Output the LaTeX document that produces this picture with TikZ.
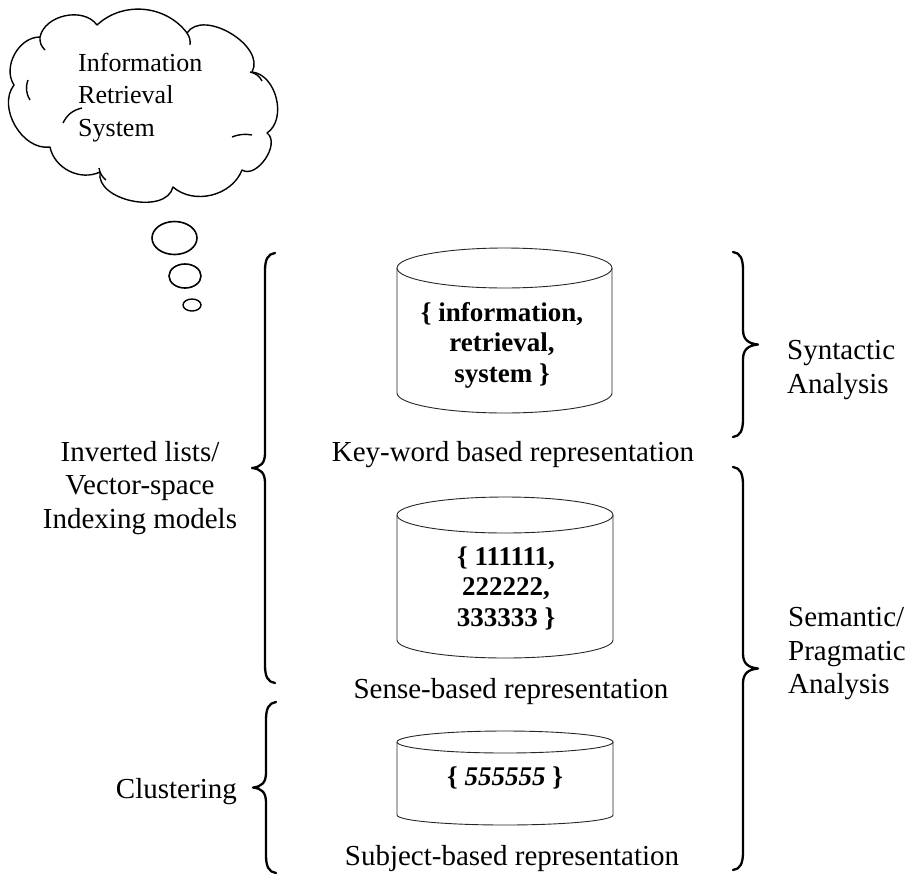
\documentclass[tikz,border=0pt]{standalone}
\usepackage{fontspec}
\setmainfont{Liberation Serif}
\usetikzlibrary{shapes.geometric}

% curly brace opening to the left: hook ends at x=#1, spine at #1+10, tip at #1+25
\newcommand\BraceRight[3]{%
  \pgfmathsetmacro\ymid{(#2+#3)/2}%
  \draw[brace line] (#1,#2) .. controls (#1+7,#2+1) and (#1+10,#2+6) .. (#1+10,#2+18)
    -- (#1+10,\ymid-15) .. controls (#1+10,\ymid-5) and (#1+15,\ymid-1) .. (#1+25,\ymid)
    .. controls (#1+15,\ymid+1) and (#1+10,\ymid+5) .. (#1+10,\ymid+15)
    -- (#1+10,#3-18) .. controls (#1+10,#3-6) and (#1+7,#3-1) .. (#1,#3);}
% curly brace opening to the right: hook ends at x=#1, spine at #1-10, tip at #1-23
\newcommand\BraceLeft[3]{%
  \pgfmathsetmacro\ymid{(#2+#3)/2}%
  \draw[brace line] (#1,#2) .. controls (#1-7,#2+1) and (#1-10,#2+6) .. (#1-10,#2+18)
    -- (#1-10,\ymid-15) .. controls (#1-10,\ymid-5) and (#1-14,\ymid-1) .. (#1-23,\ymid)
    .. controls (#1-14,\ymid+1) and (#1-10,\ymid+5) .. (#1-10,\ymid+15)
    -- (#1-10,#3-18) .. controls (#1-10,#3-6) and (#1-7,#3-1) .. (#1,#3);}
% cylinder: left x, right x, top centre y, top radius y, bottom centre y, bottom radius y
\newcommand\DrawCylinder[6]{%
  \pgfmathsetmacro\cx{(#1+#2)/2}%
  \pgfmathsetmacro\rx{(#2-#1)/2}%
  \draw[cyl line] (\cx,#3) ellipse [x radius=\rx, y radius=#4];
  \draw[cyl line] (#1,#3) -- (#1,#5) arc [start angle=180, end angle=0, x radius=\rx, y radius=#6] -- (#2,#3);}

\begin{document}
\begin{tikzpicture}[x=1pt, y=-1pt,
  cyl line/.style={line width=0.9pt, draw=black!85},
  cloud line/.style={line width=1.4pt, line join=round},
  brace line/.style={line width=2.3pt, line cap=round, line join=round},
  bubble/.style={draw, line width=1.6pt, ellipse, inner sep=0pt},
  lbl/.style={font=\fontsize{29}{33.5}\selectfont, inner sep=0pt, align=center},
  inside/.style={font=\fontsize{27}{30.5}\selectfont\bfseries, inner sep=0pt, align=center},
  thought/.style={font=\fontsize{26}{32.5}\selectfont, inner sep=0pt, align=left}]
\useasboundingbox (0,0) rectangle (910,876);

% thought cloud
\draw[cloud line] (40,37) to[bend left=66] (97,25) to[bend left=48] (187,33)
  to[bend left=88] (252,72) to[bend left=70] (267,133) to[bend left=88] (242,170)
  to[bend left=55] (173,187) to[bend left=88] (100,172) to[bend left=52] (50,147)
  to[bend left=68] (14,85) to[bend left=62] cycle;
% small inner curls of the cloud outline
\draw[cloud line] (40,37) to[bend right=25] (45,50);
\draw[cloud line] (187,33) to[bend left=20] (190,45);
\draw[cloud line] (250,72) to[bend left=25] (262,81);
\draw[cloud line] (252,135) to[bend right=15] (232,137);
\draw[cloud line] (99,168) to[bend right=20] (106,180);
\draw[cloud line] (63,123) to[bend left=25] (82,108);
\draw[cloud line] (28,80) to[bend right=25] (30,100);
\node[thought, anchor=west] (irs) at (78,97.5) {Information\\Retrieval\\System};

% thought bubbles
\node[bubble, minimum width=45pt, minimum height=33pt] (b1) at (174.5,238) {};
\node[bubble, minimum width=32pt, minimum height=24pt] (b2) at (185,276) {};
\node[bubble, minimum width=18pt, minimum height=12pt, line width=1.4pt] (b3) at (192,305) {};

% three data stores
\DrawCylinder{397}{612}{268}{20}{393}{20}
\DrawCylinder{397}{613}{515}{18}{640}{18}
\DrawCylinder{397}{613}{742}{11}{815}{10}

\node[inside] (kwset) at (502,345) {\{ information,\\retrieval,\\system \}};
\node[inside] (senseset) at (506,588) {\{ 111111,\\222222,\\333333 \}};
\node[inside] (subjset) at (505,778) {\{ \textit{555555} \}};

\node[lbl] (kwlbl) at (513,455) {Key-word based representation};
\node[lbl] (senselbl) at (511,692) {Sense-based representation};
\node[lbl] (subjlbl) at (512,859) {Subject-based representation};

% braces on the right
\BraceRight{733}{252}{437}
\BraceRight{733}{467}{870}
\node[lbl, anchor=west, align=left] (syn) at (787,370) {Syntactic\\Analysis};
\node[lbl, anchor=west, align=left] (sem) at (788,654) {Semantic/\\Pragmatic\\Analysis};

% braces on the left
\BraceLeft{275}{253}{683}
\BraceLeft{276}{702}{873}
\node[lbl] (inv) at (140,488) {Inverted lists/\\Vector-space\\Indexing models};
\node[lbl, anchor=east] (clu) at (237,792) {Clustering};
\end{tikzpicture}
\end{document}
